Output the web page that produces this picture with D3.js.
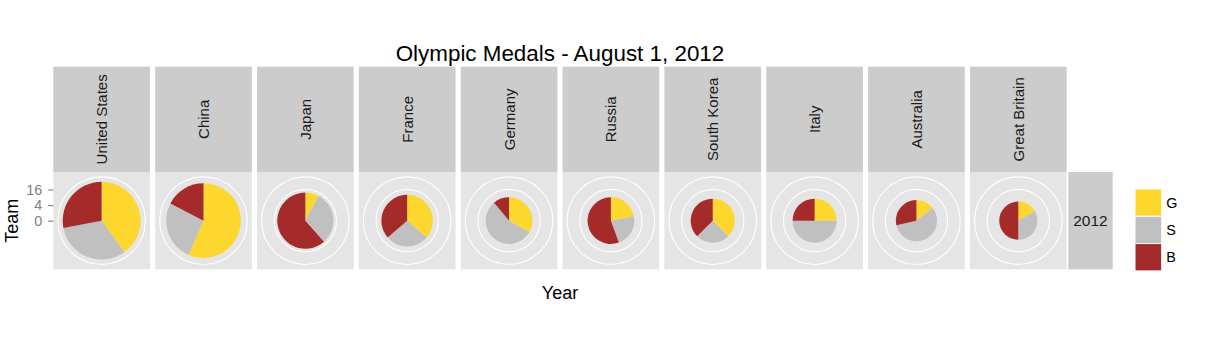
<!DOCTYPE html>
<html>
<head>
<meta charset="utf-8">
<script src="https://cdn.jsdelivr.net/npm/d3@7"></script>
<style>
  html, body { margin: 0; padding: 0; background: #ffffff; }
  svg { display: block; font-family: "Liberation Sans", Arial, Helvetica, sans-serif; }
</style>
</head>
<body>
<svg id="chart" width="1210" height="339"></svg>
<script>
// ---- data ----
const teams  = ["United States", "China", "Japan", "France", "Germany", "Russia", "South Korea", "Italy", "Australia", "Great Britain"];
const gold   = [10, 13, 1, 4, 3, 2, 3, 2, 1, 1];
const silver = [ 8,  6, 4, 3, 5, 2, 2, 4, 4, 2];
const bronze = [ 7,  4, 8, 4, 1, 5, 3, 2, 2, 3];
const medals = ["G", "S", "B"];
const years  = ["2012"];
const rTicks = [0, 4, 16];
const title  = "Olympic Medals - August 1, 2012";

// ---- layout ----
const svg = d3.select("#chart");
const panelTop = 172, panelH = 97.3;
const stripTop = 66.7;
const x = d3.scaleBand().domain(teams).range([53.3, 1066.65]).paddingInner(0.0506).paddingOuter(0);
const pw = x.bandwidth();
const cyc = panelTop + panelH / 2;
const totals = teams.map((t, i) => gold[i] + silver[i] + bronze[i]);
const rMax = 0.4 * panelH;
const r = d3.scaleSqrt().domain([0, d3.max(totals)]).range([0, rMax]);
const color = d3.scaleOrdinal().domain(medals).range(["#FDD72E", "#C0C0C0", "#A52A2A"]);

const pie = d3.pie().sort(null).value(d => d.v);
const arc = d3.arc().innerRadius(0);

// title
svg.append("text")
  .attr("x", (x.range()[0] + x.range()[1]) / 2)
  .attr("y", 61)
  .attr("text-anchor", "middle")
  .attr("font-size", 22.4)
  .attr("fill", "#000")
  .text(title);

// facets
teams.forEach((t, i) => {
  const x0 = x(t);
  const g = svg.append("g");
  // top strip
  g.append("rect").attr("x", x0).attr("y", stripTop).attr("width", pw).attr("height", panelTop - stripTop).attr("fill", "#CCCCCC");
  const scx = x0 + pw / 2, scy = (stripTop + panelTop) / 2;
  g.append("text")
    .attr("transform", `translate(${scx},${scy}) rotate(-90)`)
    .attr("text-anchor", "middle")
    .attr("dominant-baseline", "central")
    .attr("font-size", 15)
    .attr("fill", "#1a1a1a")
    .text(t);
  // panel
  g.append("rect").attr("x", x0).attr("y", panelTop).attr("width", pw).attr("height", panelH).attr("fill", "#E5E5E5");
  const cx = x0 + pw / 2;
  const pg = g.append("g").attr("transform", `translate(${cx},${cyc})`);
  // grid circles (r breaks and outer circle)
  rTicks.filter(v => v > 0).forEach(v => {
    pg.append("circle").attr("r", r(v)).attr("fill", "none").attr("stroke", "#ffffff").attr("stroke-width", 1.1);
  });
  pg.append("circle").attr("r", 0.45 * panelH).attr("fill", "none").attr("stroke", "#ffffff").attr("stroke-width", 1.1);
  // pie
  const vals = [{k: "G", v: gold[i]}, {k: "S", v: silver[i]}, {k: "B", v: bronze[i]}];
  const rr = r(totals[i]);
  pg.selectAll("path.slice").data(pie(vals)).enter().append("path")
    .attr("class", "slice")
    .attr("d", d => arc.outerRadius(rr)(d))
    .attr("fill", d => color(d.data.k));
});

// right strip (year)
const lastRight = x.range()[1];
svg.append("rect").attr("x", 1068.3).attr("y", panelTop).attr("width", 44.4).attr("height", panelH).attr("fill", "#CCCCCC");
svg.append("text")
  .attr("x", 1068.3 + 22.2).attr("y", cyc)
  .attr("text-anchor", "middle").attr("dominant-baseline", "central")
  .attr("font-size", 15.5).attr("fill", "#1a1a1a")
  .text(years[0]);

// radial axis (left)
const yR = d3.scaleSqrt().domain([0, d3.max(totals)]).range([cyc, cyc - rMax]);
const axis = svg.append("g")
  .attr("transform", `translate(${x.range()[0]},0)`)
  .call(d3.axisLeft(yR).tickValues(rTicks).tickSize(5).tickPadding(6).tickFormat(d3.format("d")));
axis.select(".domain").remove();
axis.selectAll(".tick line").attr("stroke", "#7F7F7F").attr("stroke-width", 1.1);
axis.selectAll(".tick text").attr("fill", "#7F7F7F").attr("font-size", 14.4).attr("font-family", "Liberation Sans, Arial, sans-serif");

// axis titles
svg.append("text")
  .attr("transform", `translate(18.3,${cyc}) rotate(-90)`)
  .attr("text-anchor", "middle")
  .attr("font-size", 18).attr("fill", "#000")
  .text("Team");
svg.append("text")
  .attr("x", (x.range()[0] + x.range()[1]) / 2).attr("y", 299.3)
  .attr("text-anchor", "middle")
  .attr("font-size", 18).attr("fill", "#000")
  .text("Year");

// legend
const keyH = 27.3, keyW = 26.7, lx = 1135, ly = 189;
const leg = svg.append("g");
medals.forEach((m, j) => {
  leg.append("rect")
    .attr("x", lx).attr("y", ly + j * keyH)
    .attr("width", keyW).attr("height", keyH)
    .attr("fill", color(m)).attr("stroke", "#ffffff").attr("stroke-width", 1);
  leg.append("text")
    .attr("x", lx + keyW + 4.5).attr("y", ly + j * keyH + keyH / 2)
    .attr("dominant-baseline", "central")
    .attr("font-size", 14.4).attr("fill", "#000")
    .text(m);
});
</script>
</body>
</html>
